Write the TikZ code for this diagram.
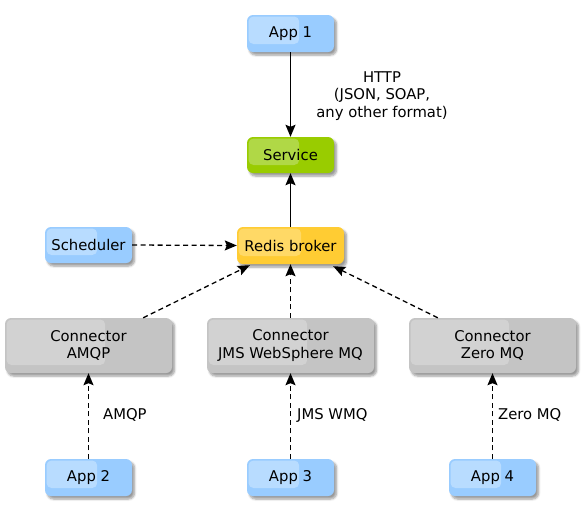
\documentclass[tikz,border=0pt]{standalone}
\usepackage{fontspec}
\setmainfont{DejaVu Sans}
\usetikzlibrary{arrows.meta,calc,shadows.blur}
\definecolor{appblue}{HTML}{99CCFF}
\definecolor{applight}{HTML}{B8DCFF}
\definecolor{servgreen}{HTML}{99CC00}
\definecolor{servlight}{HTML}{B0D846}
\definecolor{redisyel}{HTML}{FFCC33}
\definecolor{redislight}{HTML}{FFD966}
\definecolor{congray}{HTML}{C4C4C4}
\definecolor{conlight}{HTML}{D2D2D2}
\tikzset{
  x=1pt, y=-1pt,
  gbox/.style n args={2}{draw=none, fill=#1, rounded corners=6pt,
    blur shadow={shadow xshift=2.5pt, shadow yshift=-3pt, shadow blur steps=6, shadow opacity=40},
    align=center, font=\fontsize{14.8}{17.5}\selectfont, inner sep=0pt,
    path picture={\fill[#2, rounded corners=5pt]
      ($(path picture bounding box.north west)+(1.5pt,-1.5pt)$) rectangle
      ($(path picture bounding box.south west)!0.6!(path picture bounding box.south east)+(0,8pt)$);}},
  appbox/.style={gbox={appblue}{applight}, minimum width=87pt, minimum height=37pt},
  servbox/.style={gbox={servgreen}{servlight}, minimum width=87pt, minimum height=36pt},
  redisbox/.style={gbox={redisyel}{redislight}, minimum width=107pt, minimum height=37pt},
  conbox/.style={gbox={congray}{conlight}, minimum width=167pt, minimum height=55pt},
  conn/.style={line width=1.3pt, -{Stealth[length=12pt,width=10pt,inset=2pt]}},
  dconn/.style={conn, dash pattern=on 5pt off 3.5pt},
  lbl/.style={font=\fontsize{14.8}{17.5}\selectfont, inner sep=0pt, align=center}
}
\begin{document}
\begin{tikzpicture}
\useasboundingbox (0,0) rectangle (582,517);
\node[appbox] (app1) at (290.5,33.5) {App 1};
\node[servbox] (serv) at (290.5,155) {Service};
\node[redisbox] (redis) at (290.5,245.5) {Redis broker};
\node[appbox, minimum height=36pt] (sched) at (88.5,245) {Scheduler};
\node[conbox] (conA) at (88.5,345.5) {Connector\\AMQP};
\node[conbox] (conJ) at (290.5,345.5) {Connector\\JMS WebSphere MQ};
\node[conbox] (conZ) at (492.5,345.5) {Connector\\Zero MQ};
\node[appbox] (app2) at (88.5,477.5) {App 2};
\node[appbox] (app3) at (290.5,477.5) {App 3};
\node[appbox] (app4) at (492.5,477.5) {App 4};

\node[lbl] (http) at (382,96) {HTTP\\(JSON, SOAP,\\any other format)};
\node[lbl, anchor=west] (lA) at (103,415) {AMQP};
\node[lbl, anchor=west] (lJ) at (297,415) {JMS WMQ};
\node[lbl, anchor=west] (lZ) at (498,415) {Zero MQ};

\draw[conn] (app1.south) -- (serv.north);
\draw[conn] (redis.north) -- (serv.south);
\draw[dconn] (sched.east) -- (redis.west);
\draw[dconn] ([xshift=-29pt]conA.north east) -- ([xshift=13pt,yshift=-1pt]redis.south west);
\draw[dconn] (conJ.north) -- (redis.south);
\draw[dconn] ([xshift=29pt]conZ.north west) -- ([xshift=-11pt,yshift=-2pt]redis.south east);
\draw[dconn] (app2.north) -- (conA.south);
\draw[dconn] (app3.north) -- (conJ.south);
\draw[dconn] (app4.north) -- (conZ.south);
\end{tikzpicture}
\end{document}
